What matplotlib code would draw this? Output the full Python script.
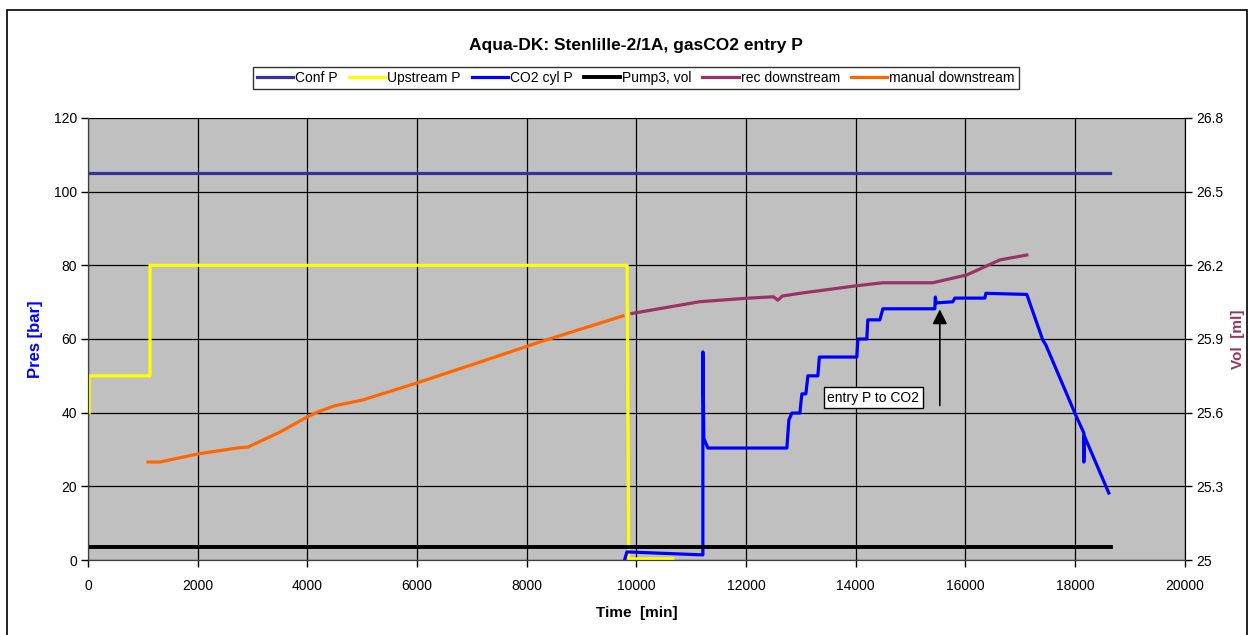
import matplotlib.pyplot as plt
from matplotlib.patches import Rectangle

plt.rcParams['font.family'] = ['Liberation Sans', 'DejaVu Sans']

# pressures, bar (left axis)
conf_t = [0, 18630]
conf_p = [105, 105]

up_t = [20, 20, 1130, 1130, 9830, 9860, 10665]
up_p = [40, 50, 50, 80, 80, 0.3, 0.3]

cyl_t = [9790, 9827, 11194, 11212, 11212, 11230, 11303, 12744, 12780, 12835,
         12981, 13017, 13090, 13127, 13309, 13336, 14020, 14038, 14202, 14220,
         14439, 14494, 15442, 15451, 15469, 15770, 15807, 16354, 16372, 17119,
         17411, 17466, 17995, 18159, 18159, 18168, 18614]
cyl_p = [0.3, 2.2, 1.4, 1.4, 56.5, 33.0, 30.4, 30.4, 38.0, 39.9,
         39.9, 45.1, 45.1, 50.0, 50.0, 55.1, 55.1, 60.0, 60.0, 65.2,
         65.2, 68.2, 68.2, 71.4, 69.8, 70.1, 71.1, 71.1, 72.4, 72.1,
         59.7, 58.4, 39.9, 34.5, 26.6, 33.7, 18.2]

# volumes, ml (right axis)
pump_t = [0, 18650]
pump_v = [25.055, 25.055]

rec_t = [9918, 11158, 12015, 12500, 12580, 12660, 12981, 14020, 14494, 15406,
         16026, 16627, 17119]
rec_v = [26.004, 26.052, 26.066, 26.072, 26.058, 26.075, 26.086, 26.117, 26.129, 26.129,
         26.161, 26.222, 26.242]

man_t = [1094, 1313, 2005, 2716, 2917, 3500, 3993, 4200, 4500, 5014,
         6053, 7147, 8241, 9754]
man_v = [25.399, 25.399, 25.432, 25.456, 25.460, 25.521, 25.582, 25.604, 25.628, 25.652,
         25.725, 25.806, 25.888, 25.994]

fig = plt.figure(figsize=(12.54, 6.35), dpi=100)
ax = fig.add_axes([0.0702, 0.1181, 0.8746, 0.6961])
ax2 = ax.twinx()

ax.set_facecolor('#c0c0c0')
ax.set_zorder(1)
ax2.set_zorder(2)
ax2.patch.set_visible(False)

l1, = ax.plot(conf_t, conf_p, color='#333399', lw=2.3, label='Conf P')
l2, = ax.plot(up_t, up_p, color='#ffff00', lw=2.3, label='Upstream P')
l3, = ax.plot(cyl_t, cyl_p, color='#0000ff', lw=2.3, label='CO2 cyl P')
l4, = ax2.plot(pump_t, pump_v, color='black', lw=2.8, label='Pump3, vol')
l5, = ax2.plot(rec_t, rec_v, color='#993366', lw=2.3, label='rec downstream')
l6, = ax2.plot(man_t, man_v, color='#ff6600', lw=2.3, label='manual downstream')

ax.set_xlim(0, 20000)
ax.set_ylim(0, 120)
ax2.set_ylim(25, 26.8)
ax.set_xticks(range(0, 20001, 2000))
ax.set_yticks(range(0, 121, 20))
ax2.set_yticks([25, 25.3, 25.6, 25.9, 26.2, 26.5, 26.8])
ax2.set_yticklabels(['25', '25.3', '25.6', '25.9', '26.2', '26.5', '26.8'])

ax.grid(True, color='black', lw=0.9)
ax.set_axisbelow(True)
for a in (ax, ax2):
    a.tick_params(labelsize=10, length=5, width=1, direction='out', pad=3)
    for s in a.spines.values():
        s.set_color('#404040')
    a.spines['top'].set_visible(False)
ax.tick_params(axis='x', pad=9)
ax2.spines['right'].set_color('black')

ax.set_xlabel('Time  [min]', fontsize=11, fontweight='bold', labelpad=9)
ax.set_ylabel('Pres [bar]', fontsize=12, fontweight='bold', color='#0000ff', labelpad=8)
ax2.set_ylabel('Vol  [ml]', fontsize=11, fontweight='bold', color='#993366', labelpad=6)

# text box plus the arrow to the CO2 entry point
ax.text(13480, 44.1, 'entry P to CO2', fontsize=10, va='center', ha='left', zorder=5,
        bbox=dict(boxstyle='square,pad=0.25', fc='white', ec='black', lw=1))
ax.annotate('', xy=(15533, 68.8), xytext=(15533, 41.2), zorder=5,
            arrowprops=dict(arrowstyle='-|>', color='black', lw=1.2, mutation_scale=22))

fig.suptitle('Aqua-DK: Stenlille-2/1A, gasCO2 entry P', x=0.507, y=0.94,
             fontsize=12.5, fontweight='bold')
leg = fig.legend(handles=[l1, l2, l3, l4, l5, l6], loc='center', ncol=6,
                 bbox_to_anchor=(0.507, 0.877), fontsize=10, frameon=True, fancybox=False,
                 handlelength=2.6, handletextpad=0.15, columnspacing=0.8,
                 borderpad=0.3, borderaxespad=0)
leg.get_frame().set_edgecolor('black')
leg.get_frame().set_linewidth(1)

fig.patches.append(Rectangle((7 / 1254, -0.02), 1240 / 1254, 1.004, transform=fig.transFigure,
                             fill=False, ec='black', lw=1.2))

fig.savefig('out.png', dpi=100)
